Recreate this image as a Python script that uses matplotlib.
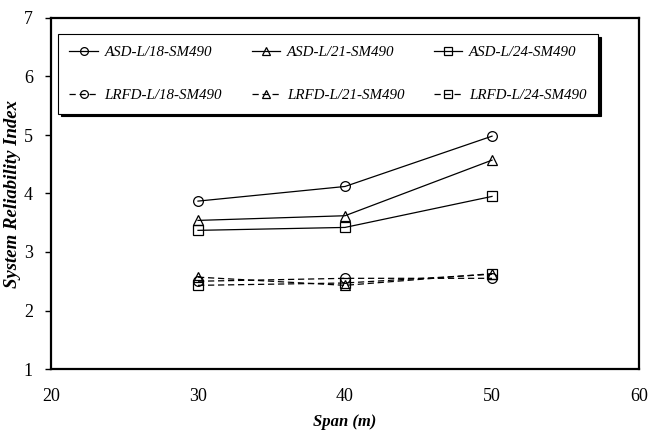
import matplotlib.pyplot as plt

plt.rcParams['font.family'] = ['Liberation Serif', 'DejaVu Serif']

span = [30, 40, 50]

asd_18 = [3.87, 4.12, 4.98]
asd_21 = [3.54, 3.62, 4.57]
asd_24 = [3.37, 3.42, 3.95]
lrfd_18 = [2.50, 2.55, 2.55]
lrfd_21 = [2.57, 2.43, 2.63]
lrfd_24 = [2.43, 2.47, 2.62]

labels = ['ASD-L/18-SM490', 'ASD-L/21-SM490', 'ASD-L/24-SM490',
          'LRFD-L/18-SM490', 'LRFD-L/21-SM490', 'LRFD-L/24-SM490']

fig = plt.figure(figsize=(6.48, 4.36), dpi=100)
ax = fig.add_axes([51/648, 1 - 369/436, 588/648, 351/436])

series = [asd_18, asd_21, asd_24, lrfd_18, lrfd_21, lrfd_24]
markers = ['o', '^', 's', 'o', '^', 's']
lines = []
for i, (vals, m, lab) in enumerate(zip(series, markers, labels)):
    ls = '-' if i < 3 else (0, (5, 3))
    ln, = ax.plot(span, vals, color='black', lw=0.9, linestyle=ls, marker=m,
                  markersize=7, markerfacecolor='none', markeredgecolor='black',
                  markeredgewidth=0.9, label=lab)
    lines.append(ln)

ax.set_xlim(20, 60)
ax.set_ylim(1, 7)
ax.set_xticks([20, 30, 40, 50, 60])
ax.set_yticks([1, 2, 3, 4, 5, 6, 7])
ax.tick_params(axis='x', length=0, pad=14, labelsize=13)
ax.tick_params(axis='y', length=4, width=1, direction='out', pad=9, labelsize=13)
for s in ax.spines.values():
    s.set_linewidth(1.6)

ax.set_xlabel('Span (m)', fontsize=12, fontweight='bold', style='italic', labelpad=6)
ax.set_ylabel('System Reliability Index', fontsize=13.5, fontweight='bold', style='italic', labelpad=2)

# legend fills column by column, so put ASD/LRFD pairs together
order = [0, 3, 1, 4, 2, 5]
leg = ax.legend([lines[k] for k in order], [labels[k] for k in order],
                ncol=3, loc='upper left', bbox_to_anchor=(0.012, 0.724, 0.918, 0.23),
                mode='expand', fontsize=10.8, frameon=True, fancybox=False,
                shadow={'color': 'black', 'alpha': 1}, borderaxespad=0,
                handlelength=1.9, handletextpad=0.45, columnspacing=1.0,
                labelspacing=2.0, borderpad=0.75, markerscale=0.8)
leg.get_frame().set_edgecolor('black')
leg.get_frame().set_linewidth(0.8)
for t in leg.get_texts():
    t.set_style('italic')

fig.savefig('out.png', dpi=100)
